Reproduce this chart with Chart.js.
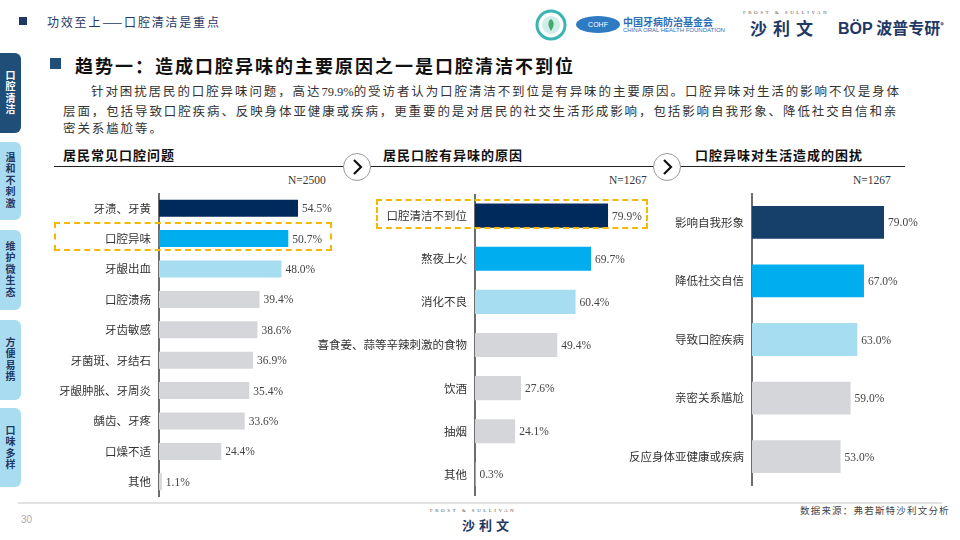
<!DOCTYPE html>
<html>
<head>
<meta charset="utf-8">
<script src="https://cdn.jsdelivr.net/npm/chart.js@4.4.0/dist/chart.umd.min.js"></script>
<style>
    body { margin: 0; background: #fff; }
    #page { position: relative; width: 960px; height: 540px; overflow: hidden; font-family: "Noto Sans CJK SC", sans-serif; color: #222; }
    .abs { position: absolute; white-space: nowrap; }
    .tab { position: absolute; left: 0; width: 21px; border-radius: 0 6px 6px 0; background: #a9dcf1; color: #1f3864;
           writing-mode: vertical-rl; font-size: 10px; font-weight: bold; letter-spacing: 1.5px;
           display: flex; align-items: center; justify-content: center; }
    .tab.on { background: #1f4e79; color: #fff; }
    .head { font-size: 13px; font-weight: bold; letter-spacing: 1px; color: #111; }
    .rule { position: absolute; height: 0; border-top: 1.5px solid #222; }
    .nlabel { font-family: "Liberation Serif", serif; font-size: 11.5px; color: #333; }
    .circle { position: absolute; width: 26px; height: 26px; border: 1px solid #999; border-radius: 50%; background: #fff; }
    .dash { position: absolute; border: 2px dashed #f5b800; }
    canvas { position: absolute; }
    .para { font-size: 12.5px; letter-spacing: 1.9px; color: #333; line-height: 17.5px; }
</style>
</head>
<body>
<div id="page">
    <!-- header -->
    <div class="abs" style="left:19px;top:17px;width:8px;height:8px;background:#1f3864;"></div>
    <div class="abs" style="left:47px;top:13px;font-size:12px;letter-spacing:1.8px;color:#1f3864;">功效至上——口腔清洁是重点</div>

    <!-- logos -->
    <svg class="abs" style="left:535px;top:9px;" width="32" height="32">
        <circle cx="16" cy="16" r="14" fill="#fff" stroke="#3bb4b4" stroke-width="3"/>
        <circle cx="16" cy="16" r="9" fill="#cfeeea"/>
        <path d="M16 22 C12 16 13 12 16 10 C19 12 20 16 16 22 Z" fill="#4aa86a"/>
    </svg>
    <div class="abs" style="left:576px;top:16px;width:44px;height:17px;border-radius:50%;background:#2e7bc4;color:#fff;font-size:7px;line-height:17px;text-align:center;font-family:'Liberation Sans';">COHF</div>
    <div class="abs" style="left:623px;top:14px;font-size:10px;font-weight:bold;color:#2e6db4;">中国牙病防治基金会</div>
    <div class="abs" style="left:623px;top:27px;font-size:6px;color:#2e6db4;font-family:'Liberation Sans';">CHINA ORAL HEALTH FOUNDATION</div>
    <div class="abs" style="left:743px;top:10px;font-size:5px;letter-spacing:2.5px;color:#555;font-family:'Liberation Serif';">FROST &amp; SULLIVAN</div>
    <div class="abs" style="left:750px;top:15px;font-size:17px;font-weight:bold;letter-spacing:6px;color:#1f3864;">沙利文</div>
    <div class="abs" style="left:838px;top:15px;font-size:16px;font-weight:bold;color:#1f3864;"><span style="font-family:'Liberation Sans';">BÖP</span> 波普专研<sup style="font-size:7px;">®</sup></div>

    <!-- side tabs -->
    <div class="tab on" style="top:53px;height:80px;">口腔清洁</div>
    <div class="tab" style="top:142px;height:78px;">温和不刺激</div>
    <div class="tab" style="top:230px;height:80px;">维护微生态</div>
    <div class="tab" style="top:320px;height:80px;">方便易携</div>
    <div class="tab" style="top:408px;height:79px;">口味多样</div>

    <!-- title -->
    <div class="abs" style="left:50px;top:58px;width:11px;height:11px;background:#1f4e79;"></div>
    <div class="abs" style="left:75px;top:52px;font-size:18px;font-weight:bold;letter-spacing:2px;color:#111;">趋势一：造成口腔异味的主要原因之一是口腔清洁不到位</div>
    <div class="abs para" style="left:63px;top:82px;">
        <span style="padding-left:28px;">针对困扰居民的口腔异味问题，高达<span style="font-family:'Liberation Serif';letter-spacing:0;">79.9%</span>的受访者认为口腔清洁不到位是有异味的主要原因。口腔异味对生活的影响不仅是身体</span><br>
        层面，包括导致口腔疾病、反映身体亚健康或疾病，更重要的是对居民的社交生活形成影响，包括影响自我形象、降低社交自信和亲<br>
        密关系尴尬等。
    </div>

    <!-- section headings -->
    <div class="abs head" style="left:63px;top:145px;">居民常见口腔问题</div>
    <div class="rule" style="left:54px;top:166px;width:291px;"></div>
    <div class="abs head" style="left:383px;top:145px;">居民口腔有异味的原因</div>
    <div class="rule" style="left:370px;top:166px;width:284px;"></div>
    <div class="abs head" style="left:695px;top:145px;">口腔异味对生活造成的困扰</div>
    <div class="rule" style="left:680px;top:166px;width:225px;"></div>

    <div class="circle" style="left:343px;top:153px;">
        <svg width="26" height="26"><polyline points="10,6 17,13 10,20" fill="none" stroke="#111" stroke-width="2.2"/></svg>
    </div>
    <div class="circle" style="left:653px;top:153px;">
        <svg width="26" height="26"><polyline points="10,6 17,13 10,20" fill="none" stroke="#111" stroke-width="2.2"/></svg>
    </div>

    <div class="abs nlabel" style="left:288px;top:174px;">N=2500</div>
    <div class="abs nlabel" style="left:609px;top:174px;">N=1267</div>
    <div class="abs nlabel" style="left:853px;top:174px;">N=1267</div>

    <canvas id="problemChart" width="320" height="304" style="left:40px;top:193px;"></canvas>
    <canvas id="causeChart" width="360" height="302" style="left:300px;top:194px;"></canvas>
    <canvas id="impactChart" width="340" height="293" style="left:600px;top:193px;"></canvas>

    <div class="dash" style="left:54px;top:222px;width:274px;height:25px;"></div>
    <div class="dash" style="left:376px;top:199px;width:268px;height:26px;"></div>

    <!-- footer -->
    <div class="abs" style="left:18px;top:502px;width:924px;height:2px;background:#e2e2e2;"></div>
    <div class="abs" style="left:21px;top:514px;font-size:10px;color:#aaa;font-family:'Liberation Sans';">30</div>
    <div class="abs" style="left:430px;top:508px;font-size:5px;letter-spacing:2.5px;color:#555;font-family:'Liberation Serif';">FROST &amp; SULLIVAN</div>
    <div class="abs" style="left:462px;top:515px;font-size:13px;font-weight:bold;letter-spacing:4px;color:#1f3864;">沙利文</div>
    <div class="abs" style="left:800px;top:503px;font-size:9.5px;letter-spacing:1.2px;color:#444;">数据来源：弗若斯特沙利文分析</div>
</div>

<script>
/* Chart data */
const problemLabels = ['牙渍、牙黄', '口腔异味', '牙龈出血', '口腔溃疡', '牙齿敏感', '牙菌斑、牙结石', '牙龈肿胀、牙周炎', '龋齿、牙疼', '口燥不适', '其他'];
const problemValues = [54.5, 50.7, 48.0, 39.4, 38.6, 36.9, 35.4, 33.6, 24.4, 1.1];

const causeLabels = ['口腔清洁不到位', '熬夜上火', '消化不良', '喜食姜、蒜等辛辣刺激的食物', '饮酒', '抽烟', '其他'];
const causeValues = [79.9, 69.7, 60.4, 49.4, 27.6, 24.1, 0.3];

const impactLabels = ['影响自我形象', '降低社交自信', '导致口腔疾病', '亲密关系尴尬', '反应身体亚健康或疾病'];
const impactValues = [79.0, 67.0, 63.0, 59.0, 53.0];

const navy = '#002a5c';
const blue = '#00adee';
const lightBlue = '#a7ddf1';
const gray = '#d5d6d9';

// value labels after bars
const valueLabels = {
    id: 'valueLabels',
    afterDatasetsDraw: function (chart) {
        let ctx = chart.ctx;
        let meta = chart.getDatasetMeta(0);
        let data = chart.data.datasets[0].data;
        ctx.save();
        ctx.font = '11.5px "Liberation Serif"';
        ctx.fillStyle = '#444';
        ctx.textBaseline = 'middle';
        meta.data.forEach(function (bar, i) {
            ctx.fillText(data[i].toFixed(1) + '%', bar.x + 4, bar.y + 1);
        });
        ctx.restore();
    }
};

function GetColors(size, first) {
    let colors = [first, blue, lightBlue];
    while (colors.length < size) {
        colors.push(gray);
    }
    return colors;
}

function makeBarChart(id, labels, values, colors, axisWidth, maxValue) {
    let ctx = document.getElementById(id).getContext('2d');

    return new Chart(ctx, {
        type: 'bar',
        data: {
            labels: labels,
            datasets: [
                {
                    data: values,
                    backgroundColor: colors,
                    categoryPercentage: 1,
                    barPercentage: 0.56
                }
            ]
        },
        options: {
            indexAxis: 'y',
            responsive: false,
            animation: false,
            layout: { padding: 0 },
            plugins: {
                legend: { display: false },
                tooltip: { enabled: false }
            },
            scales: {
                x: {
                    display: false,
                    min: 0,
                    max: maxValue
                },
                y: {
                    grid: { display: false, drawTicks: false },
                    border: { display: true, color: '#6d6d6d', width: 2 },
                    ticks: {
                        padding: 8,
                        color: '#333',
                        font: { family: '"Noto Sans CJK SC"', size: 11.5 }
                    },
                    afterFit: function (scale) {
                        scale.width = axisWidth;
                        scale.paddingTop = 0;
                        scale.paddingBottom = 0;
                    }
                }
            }
        },
        plugins: [valueLabels]
    });
}

makeBarChart('problemChart', problemLabels, problemValues, GetColors(problemValues.length, navy), 119, 78.8);
makeBarChart('causeChart', causeLabels, causeValues, GetColors(causeValues.length, navy), 175, 111.1);
makeBarChart('impactChart', impactLabels, impactValues, GetColors(impactValues.length, '#163f69'), 152, 112.5);
</script>
</body>
</html>
